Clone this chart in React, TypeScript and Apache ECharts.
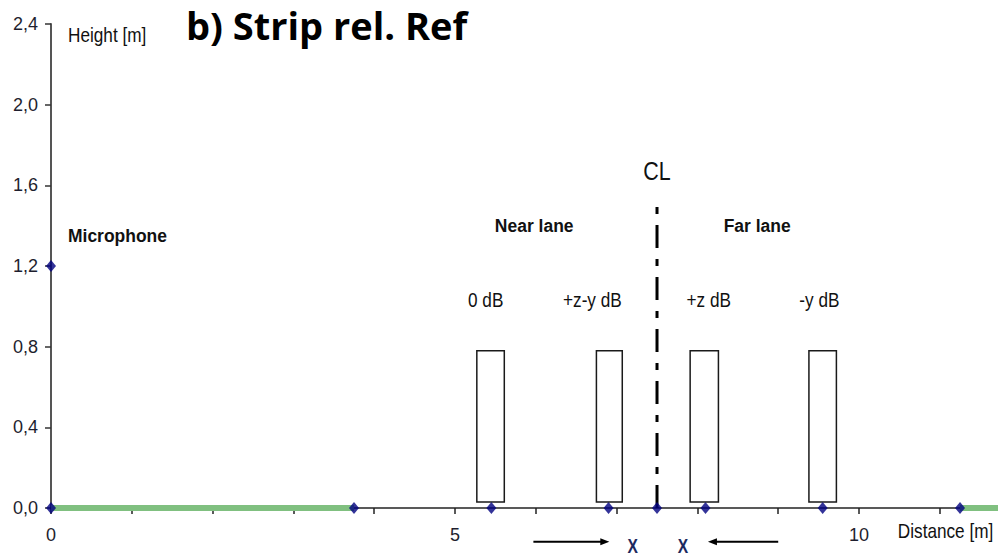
import React, { useEffect, useRef } from "react";
import * as echarts from "echarts";

// ---- axes ----
const X_MIN = 0;
const X_MAX = 11.72;
const X_INTERVAL = 1;
const Y_MIN = 0;
const Y_MAX = 2.4;
const Y_INTERVAL = 0.4;
const xLabelValues = [0, 5, 10];

// ---- measurement points (diamonds) ----
const pointX = [0, 0, 3.75, 5.45, 6.9, 7.5, 8.1, 9.55, 11.25];
const pointY = [1.2, 0, 0, 0, 0, 0, 0, 0, 0];

// ---- absorbing strip (green) ----
const stripNearX = [0, 3.75];
const stripFarX = [11.25, X_MAX];

// ---- vehicles (rectangles) ----
const vehicleStart = [5.27, 6.75, 7.91, 9.38];
const vehicleEnd = [5.61, 7.07, 8.26, 9.72];
const vehicleBottom = 0.03;
const vehicleTop = 0.78;

// ---- centre line ----
const centreLineX = 7.5;
const centreLineTop = 1.5;

// ---- annotations ----
const annotationTexts = ["CL", "Near lane", "Far lane", "0 dB", "+z-y dB", "+z dB", "-y dB"];
const annotationX = [7.5, 5.98, 8.74, 5.38, 6.7, 8.14, 9.51];
const annotationY = [1.67, 1.4, 1.4, 1.03, 1.03, 1.03, 1.03];
const annotationBold = [false, true, true, false, false, false, false];

const micText = "Microphone";
const micAnchor = [0.21, 1.355];
const heightText = "Height [m]";
const heightAnchor = [0.21, 2.345];
const distanceText = "Distance [m]";
const distanceAnchor = [10.48, -0.115];

const arrowFrom = [5.97, 9.0];
const arrowTo = [6.91, 8.13];
const arrowYValue = -0.167;
const crossX = [7.2, 7.82];
const crossY = -0.19;

const fmtY = (v: number) => v.toFixed(1).replace(".", ",");

export default function App() {
  const ref = useRef<HTMLDivElement>(null);

  useEffect(() => {
    const chart = echarts.init(ref.current!, null, { renderer: "svg" });

    const points = pointX.map((x, i) => [x, pointY[i]]);
    const vehicles = vehicleStart.map((s, i) => [s, vehicleEnd[i], vehicleBottom, vehicleTop]);

    const option: any = {
      animation: false,
      backgroundColor: "#ffffff",
      title: {
        text: "b) Strip rel. Ref",
        left: 186,
        top: 6,
        padding: 0,
        textStyle: {
          fontFamily: "Open Sans",
          fontWeight: "bold",
          fontSize: 38,
          lineHeight: 38,
          color: "#000000",
        },
      },
      grid: { left: 51, right: 0, top: 24, bottom: 48, containLabel: false },
      xAxis: {
        type: "value",
        min: X_MIN,
        max: X_MAX,
        interval: X_INTERVAL,
        splitLine: { show: false },
        axisLine: { lineStyle: { color: "#222222", width: 1.5 } },
        axisTick: { length: 6, lineStyle: { color: "#222222", width: 1.5 } },
        axisLabel: {
          margin: 18,
          fontSize: 18,
          fontFamily: "Liberation Sans",
          color: "#1e1e2e",
          showMaxLabel: false,
          formatter: (v: number) => (xLabelValues.includes(v) ? String(v) : ""),
        },
      },
      yAxis: {
        type: "value",
        min: Y_MIN,
        max: Y_MAX,
        interval: Y_INTERVAL,
        splitLine: { show: false },
        axisLine: { lineStyle: { color: "#555555", width: 2 } },
        axisTick: { length: 6, lineStyle: { color: "#333333", width: 1.5 } },
        axisLabel: {
          margin: 13,
          fontSize: 18,
          fontFamily: "Liberation Sans",
          color: "#1e1e2e",
          formatter: fmtY,
        },
      },
      series: [
        {
          type: "line",
          name: "strip near",
          data: stripNearX.map((x) => [x, 0]),
          symbol: "none",
          clip: false,
          lineStyle: { color: "#80c080", width: 6 },
          z: 3,
        },
        {
          type: "line",
          name: "strip far",
          data: stripFarX.map((x) => [x, 0]),
          symbol: "none",
          clip: false,
          lineStyle: { color: "#80c080", width: 6 },
          z: 3,
        },
        {
          type: "custom",
          name: "vehicles",
          data: vehicles,
          encode: { x: [0, 1], y: [2, 3] },
          clip: false,
          z: 4,
          renderItem: (params: any, api: any) => {
            const p0 = api.coord([api.value(0), api.value(3)]);
            const p1 = api.coord([api.value(1), api.value(2)]);
            return {
              type: "rect",
              shape: { x: p0[0], y: p0[1], width: p1[0] - p0[0], height: p1[1] - p0[1] },
              style: { fill: "#ffffff", stroke: "#1a1a1a", lineWidth: 1.5 },
            };
          },
        },
        {
          type: "line",
          name: "CL",
          data: [
            [centreLineX, 0],
            [centreLineX, centreLineTop],
          ],
          symbol: "none",
          clip: false,
          lineStyle: { color: "#000000", width: 3, type: [23, 11, 7, 11] },
          z: 5,
        },
        {
          type: "scatter",
          name: "points",
          data: points,
          symbol: "diamond",
          symbolSize: [10, 12],
          clip: false,
          itemStyle: { color: "#000080" },
          z: 10,
        },
      ],
    };

    chart.setOption(option);

    const px = (x: number, y: number) => chart.convertToPixel({ gridIndex: 0 }, [x, y]) as number[];
    const NARROW = 0.86;
    const font = "Liberation Sans";

    const makeText = (
      text: string,
      x: number,
      y: number,
      opts: { size: number; bold?: boolean; align?: string; scale?: number; fill?: string }
    ) => {
      const p = px(x, y);
      return {
        type: "text",
        x: p[0],
        y: p[1],
        scaleX: opts.scale ?? NARROW,
        z: 20,
        style: {
          text,
          x: 0,
          y: 0,
          fontSize: opts.size,
          fontFamily: font,
          fontWeight: opts.bold ? "bold" : "normal",
          fill: opts.fill ?? "#111111",
          align: opts.align ?? "center",
          verticalAlign: "middle",
          textAlign: opts.align ?? "center",
          textVerticalAlign: "middle",
        },
      };
    };

    const graphic: any[] = [];
    annotationTexts.forEach((t, i) => {
      graphic.push(
        makeText(t, annotationX[i], annotationY[i], {
          size: t === "CL" ? 25 : annotationBold[i] ? 19 : 20,
          bold: annotationBold[i],
          scale: annotationBold[i] ? 0.92 : 0.86,
        })
      );
    });
    graphic.push(makeText(micText, micAnchor[0], micAnchor[1], { size: 19, bold: true, align: "left", scale: 0.92 }));
    graphic.push(makeText(heightText, heightAnchor[0], heightAnchor[1], { size: 20, align: "left" }));
    graphic.push(makeText(distanceText, distanceAnchor[0], distanceAnchor[1], { size: 20, align: "left" }));

    // arrows
    arrowFrom.forEach((fx, i) => {
      const a = px(fx, arrowYValue);
      const b = px(arrowTo[i], arrowYValue);
      const dir = Math.sign(b[0] - a[0]);
      const headLen = 9;
      const headHalf = 3.5;
      graphic.push({
        type: "line",
        z: 20,
        shape: { x1: a[0], y1: a[1], x2: b[0] - dir * headLen * 0.6, y2: b[1] },
        style: { stroke: "#000000", lineWidth: 2 },
      });
      graphic.push({
        type: "polygon",
        z: 20,
        shape: {
          points: [
            [b[0], b[1]],
            [b[0] - dir * headLen, b[1] - headHalf],
            [b[0] - dir * headLen, b[1] + headHalf],
          ],
        },
        style: { fill: "#000000" },
      });
    });
    crossX.forEach((cx) => {
      graphic.push(makeText("X", cx, crossY, { size: 20, bold: true, scale: 0.78, fill: "#1c2a60" }));
    });

    chart.setOption({ graphic });

    return () => chart.dispose();
  }, []);

  return (
    <div
      ref={ref}
      style={{ position: "fixed", left: 0, top: 0, width: 998, height: 556, background: "#ffffff" }}
    />
  );
}
